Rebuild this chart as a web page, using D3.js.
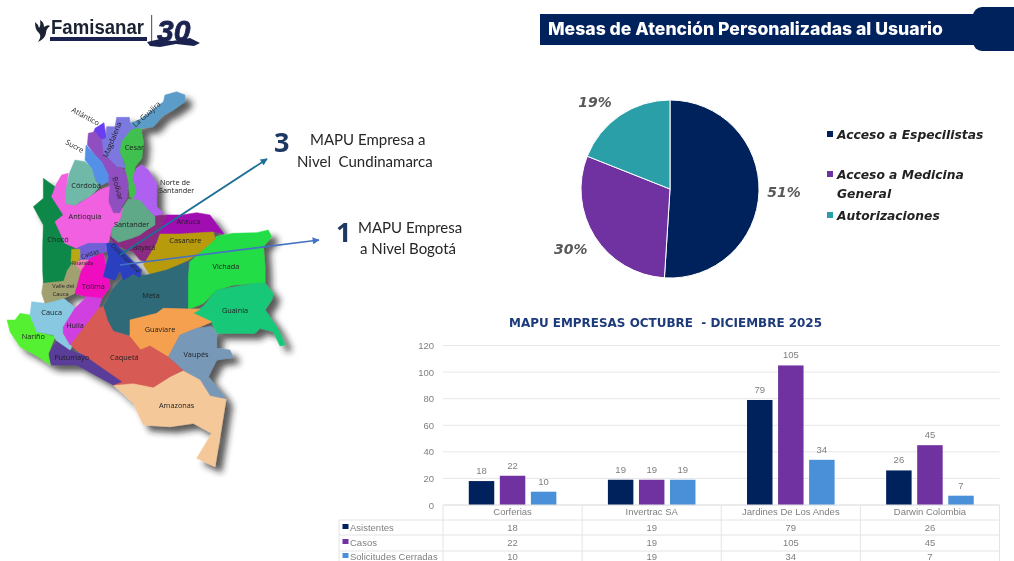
<!DOCTYPE html>
<html>
<head>
<meta charset="utf-8">
<script src="https://cdn.jsdelivr.net/npm/d3@7"></script>
<style>
  html, body { margin: 0; padding: 0; background: #fff; }
  svg { display: block; }
  text { white-space: pre; }
  .cell { font: 9.5px "Liberation Sans", sans-serif; fill: #7f7f7f; text-anchor: middle; }
  .gridline { stroke: #e6e6e6; }
  .tbl { stroke: #e4e4e4; }
  .dept { font: 22px "Open Sans", sans-serif; fill: #222; text-anchor: middle; }
</style>
</head>
<body>
<svg id="chart" width="1014" height="561"></svg>
<script>
// pie
const pieLabels = ["Acceso a Especilistas", "Acceso a Medicina General", "Autorizaciones"];
const pieValues = [51, 30, 19];
const pieColors = ["#00205c", "#7030a0", "#2b9fa8"];

// bars + table
const companies = ["Corferias", "Invertrac SA", "Jardines De Los Andes", "Darwin Colombia"];
const seriesNames = ["Asistentes", "Casos", "Solicitudes Cerradas"];
const asistentes = [18, 19, 79, 26];
const casos = [22, 19, 105, 45];
const solicitudes = [10, 19, 34, 7];
const seriesColors = ["#00205c", "#7030a0", "#4a90d9"];
const yTicks = [0, 20, 40, 60, 80, 100, 120];

// map outline at 3x (see mapG transform)
const departments = [
  ["Guajira", "#5b9cc8", [[390,130],[420,118],[445,100],[490,65],[495,45],[530,35],[555,45],[555,65],[520,90],[490,105],[460,140],[425,145],[395,145]]],
  ["Atlantico", "#6a3cf0", [[285,145],[312,128],[318,175],[290,180],[280,160]]],
  ["Magdalena", "#7b78e0", [[350,112],[388,112],[392,140],[420,145],[395,165],[365,185],[362,215],[375,262],[350,260],[330,240],[310,225],[305,180],[318,175],[320,140],[345,140]]],
  ["Cesar", "#40c050", [[395,148],[422,145],[430,185],[425,235],[405,260],[400,290],[410,330],[405,358],[390,350],[385,310],[378,275],[375,250],[360,215],[365,185]]],
  ["Bolivar", "#9050c0", [[265,160],[285,155],[305,180],[310,225],[330,240],[350,260],[375,270],[385,310],[380,355],[365,380],[362,395],[340,400],[325,365],[328,320],[320,275],[305,245],[285,225],[262,195]]],
  ["Sucre", "#5590e8", [[258,195],[285,225],[305,245],[325,285],[325,305],[305,315],[285,300],[275,265],[255,240]]],
  ["Cordoba", "#70b8a8", [[225,240],[255,245],[275,265],[285,300],[300,318],[270,350],[240,365],[225,378],[195,372],[195,340],[208,280]]],
  ["Norte", "#b060f0", [[425,255],[445,270],[470,310],[470,380],[490,400],[465,410],[440,385],[400,360],[410,330],[398,295],[410,265]]],
  ["Boyaca", "#8a2a80", [[465,408],[500,405],[480,460],[470,490],[440,545],[420,540],[400,515],[345,495],[325,465],[355,487],[395,475],[440,450],[465,435]]],
  ["Santander", "#5fa888", [[385,358],[420,360],[440,385],[465,410],[465,435],[440,450],[420,465],[395,475],[355,487],[335,470],[335,445],[360,420],[368,385]]],
  ["Arauca", "#a010b0", [[500,405],[545,405],[590,398],[630,405],[672,462],[640,455],[590,460],[540,462],[480,462]]],
  ["Casanare", "#b89a10", [[480,462],[540,462],[600,458],[640,456],[645,480],[610,510],[565,540],[500,570],[450,585],[430,555],[470,490]]],
  ["Meta", "#2f6a78", [[370,590],[440,585],[500,570],[565,545],[565,685],[490,685],[470,700],[390,720],[388,765],[340,750],[322,720],[310,680],[340,625]]],
  ["Vichada", "#22dd44", [[648,470],[700,460],[770,458],[805,450],[815,470],[790,500],[795,560],[795,610],[770,610],[700,615],[650,630],[610,670],[565,688],[565,590],[570,545],[610,510],[645,480]]],
  ["Guainia", "#18c878", [[580,698],[610,680],[650,630],[770,610],[795,610],[820,640],[815,660],[795,690],[830,740],[850,780],[855,795],[840,798],[820,755],[780,745],[765,760],[650,760],[635,725],[590,710]]],
  ["Guaviare", "#f5a050", [[390,720],[470,700],[490,685],[600,688],[580,700],[635,725],[590,745],[540,765],[505,830],[450,798],[420,810],[390,770]]],
  ["Vaupes", "#7898b8", [[540,765],[590,745],[635,740],[650,760],[650,805],[690,810],[700,832],[650,840],[625,890],[670,945],[675,955],[630,950],[600,900],[550,870],[505,830]]],
  ["Amazonas", "#f5c89a", [[340,915],[390,905],[460,922],[510,890],[550,873],[600,900],[630,948],[678,958],[660,1070],[645,1160],[590,1135],[635,1060],[580,1030],[510,1040],[430,1035],[400,970]]],
  ["Caqueta", "#d85a55", [[210,795],[295,685],[310,680],[322,720],[340,755],[390,770],[422,810],[450,798],[505,832],[548,870],[510,890],[460,922],[400,910],[340,915],[300,860],[250,825]]],
  ["Putumayo", "#5a3d98", [[170,782],[210,810],[250,825],[300,860],[365,905],[340,915],[285,885],[230,855],[155,855],[145,825]]],
  ["Narino", "#55f030", [[60,700],[90,705],[110,755],[165,770],[145,820],[150,855],[115,830],[60,800],[30,755],[21,720],[45,720]]],
  ["Cauca", "#88c8e0", [[95,665],[135,670],[190,655],[240,695],[220,735],[190,740],[190,760],[215,800],[210,810],[170,782],[160,765],[110,755],[90,705]]],
  ["Valle", "#a0a070", [[130,605],[190,600],[200,570],[218,545],[250,548],[245,565],[225,640],[190,655],[135,670],[125,640]]],
  ["Choco", "#108848", [[130,295],[165,320],[155,350],[190,405],[165,425],[195,490],[225,505],[218,545],[200,572],[190,602],[130,608],[128,570],[128,500],[130,435],[100,380],[130,355]]],
  ["Antioquia", "#f060e0", [[185,285],[205,280],[195,340],[195,372],[225,378],[270,350],[300,330],[328,320],[325,365],[340,400],[360,400],[368,385],[360,420],[335,445],[325,490],[295,495],[265,490],[230,505],[195,490],[165,425],[190,405],[155,350],[170,310]]],
  ["Caldas", "#7060d8", [[230,505],[265,490],[325,490],[320,515],[290,520],[270,540],[240,545]]],
  ["Risaralda", "#b8a818", [[215,508],[240,508],[240,535],[225,552],[213,545]]],
  ["Quindio", "#f080b0", [[225,552],[240,540],[270,540],[250,565],[245,575]]],
  ["Tolima", "#f010c0", [[225,640],[245,570],[270,535],[310,520],[330,620],[305,655],[260,650]]],
  ["Huila", "#d040e0", [[190,740],[225,685],[260,650],[305,655],[295,685],[210,795],[190,760]]],
  ["Cundinamarca", "#2a3fc0", [[320,490],[345,490],[385,530],[425,570],[420,592],[400,582],[370,600],[360,570],[345,600],[310,590],[325,530]]]
];
const deptLabels = [
  ["La Guajira", 445, 108, -42, 22], ["Atlántico", 253, 116, 28, 22], ["Magdalena", 344, 182, -68, 22],
  ["Sucre", 220, 205, 28, 22], ["Cesar", 403, 211, 0, 22], ["Córdoba", 258, 325, 0, 22],
  ["Bolívar", 346, 327, 75, 22], ["Norte de", 525, 316, 0, 22], ["Santander", 530, 340, 0, 22],
  ["Antioquia", 255, 418, 0, 22], ["Santander", 395, 441, 0, 22], ["Arauca", 565, 432, 0, 22],
  ["Casanare", 556, 490, 0, 22], ["Chocó", 174, 486, 0, 22], ["Vichada", 678, 567, 0, 22],
  ["Boyacá", 432, 510, 0, 20], ["Caldas", 272, 528, -20, 18], ["Cundinamarca", 372, 538, 45, 17],
  ["Risaralda", 248, 556, 0, 15], ["Valle del", 190, 624, 0, 17], ["Cauca", 182, 647, 0, 17],
  ["Meta", 453, 654, 0, 22], ["Guainía", 705, 699, 0, 22], ["Guaviare", 480, 755, 0, 22],
  ["Tolima", 280, 627, 0, 22], ["Cauca", 155, 706, 0, 22], ["Huila", 225, 743, 0, 22],
  ["Nariño", 100, 778, 0, 22], ["Vaupés", 588, 831, 0, 22], ["Putumayo", 215, 840, 0, 22],
  ["Caquetá", 373, 840, 0, 22], ["Amazonas", 530, 984, 0, 22]
];

const svg = d3.select("#chart");
const defs = svg.append("defs");
defs.append("filter").attr("id", "soft").attr("x", "-2%").attr("y", "-2%").attr("width", "104%").attr("height", "104%")
  .append("feGaussianBlur").attr("stdDeviation", 0.4);
const shadow = defs.append("filter").attr("id", "mapShadow").attr("x", "-15%").attr("y", "-15%").attr("width", "130%").attr("height", "130%");
shadow.append("feGaussianBlur").attr("in", "SourceGraphic").attr("stdDeviation", 1.5).attr("result", "b");
shadow.append("feDropShadow").attr("in", "b").attr("dx", 20).attr("dy", 18).attr("stdDeviation", 9).attr("flood-color", "#222").attr("flood-opacity", 0.75);

const arrowMarker = (id, color) => {
  defs.append("marker").attr("id", id).attr("viewBox", "0 0 10 10").attr("refX", 9).attr("refY", 5)
    .attr("markerWidth", 9).attr("markerHeight", 7).attr("markerUnits", "userSpaceOnUse").attr("orient", "auto")
    .append("path").attr("d", "M0,0L10,5L0,10Z").attr("fill", color);
};
arrowMarker("arrowTeal", "#1e6f96");
arrowMarker("arrowBlue", "#4472c4");

const page = svg.append("g").attr("filter", "url(#soft)");
page.append("rect").attr("width", 1014).attr("height", 561).attr("fill", "#fff");

//#region Header
page.append("rect").attr("x", 540).attr("y", 14).attr("width", 440).attr("height", 31).attr("fill", "#00205c");
page.append("rect").attr("x", 973).attr("y", 7).attr("width", 60).attr("height", 44).attr("rx", 9).attr("fill", "#00205c");
page.append("text").attr("x", 548).attr("y", 35).attr("fill", "#fff")
  .style("font", "800 17.5px Inter, sans-serif").attr("textLength", 395).attr("lengthAdjust", "spacingAndGlyphs")
  .text("Mesas de Atención Personalizadas al Usuario");

const logo = page.append("g");
logo.append("path").attr("fill", "#1b2433")
  .attr("d", "M35,22 Q38,24 39,28 Q41,25 40,20 Q44,22 44,27 Q48,24 50,26 Q46,29 46,33 Q45,39 38,42 Q42,36 39,33 Q35,30 35,22Z");
logo.append("text").attr("x", 51).attr("y", 34).attr("fill", "#1b2433")
  .style("font", "bold 19.5px 'Liberation Sans', sans-serif").attr("textLength", 93).attr("lengthAdjust", "spacingAndGlyphs").text("Famisanar");
logo.append("rect").attr("x", 50).attr("y", 37).attr("width", 97).attr("height", 4).attr("fill", "#1d2450");
logo.append("rect").attr("x", 151).attr("y", 15).attr("width", 1.2).attr("height", 30).attr("fill", "#666");
logo.append("text").attr("x", 157).attr("y", 41).attr("fill", "#1d2450").attr("stroke", "#1d2450").attr("stroke-width", 0.8)
  .style("font", "italic bold 30px 'Liberation Sans', sans-serif").text("30");
logo.append("path").attr("fill", "#1d2450")
  .attr("d", "M147,42 L160,39 L172,41 L190,38 L200,43 L194,46 L176,44 L160,47 L150,46Z");
//#endregion

//#region Map
const mapG = page.append("g").attr("transform", "translate(0,80) scale(0.33333)");
const lineGen = d3.line().curve(d3.curveLinearClosed);
const provinces = mapG.append("g").attr("filter", "url(#mapShadow)");
provinces.selectAll("path")
  .data(departments)
  .enter()
  .append("path")
  .attr("d", (d) => lineGen(d[2]))
  .attr("fill", (d) => d[1])
  .attr("stroke", (d) => d[1])
  .attr("stroke-width", 1.5)
  .attr("stroke-linejoin", "round");
mapG.selectAll("text")
  .data(deptLabels)
  .enter()
  .append("text")
  .attr("class", "dept")
  .attr("transform", (d) => `translate(${d[1]},${d[2]}) rotate(${d[3]})`)
  .style("font-size", (d) => d[4] + "px")
  .text((d) => d[0]);

page.append("line").attr("x1", 120).attr("y1", 255).attr("x2", 267).attr("y2", 159)
  .attr("stroke", "#1e6f96").attr("stroke-width", 1.8).attr("marker-end", "url(#arrowTeal)");
page.append("line").attr("x1", 120).attr("y1", 265).attr("x2", 319).attr("y2", 240)
  .attr("stroke", "#4472c4").attr("stroke-width", 1.6).attr("marker-end", "url(#arrowBlue)");

const note = (txt, x, y) =>
  page.append("text").attr("x", x).attr("y", y).attr("fill", "#262626")
    .style("font", "15px Lato, sans-serif").text(txt);
page.append("text").attr("x", 274).attr("y", 152).attr("fill", "#1f3864")
  .style("font", "bold 27px 'Open Sans', sans-serif").text("3");
note("MAPU Empresa a", 310, 145);
note("Nivel  Cundinamarca", 297, 167);
page.append("text").attr("x", 336).attr("y", 242).attr("fill", "#1f3864")
  .style("font", "bold 27px 'Open Sans', sans-serif").text("1");
note("MAPU Empresa", 358, 233);
note("a Nivel Bogotá", 360, 254);
//#endregion

//#region Pie
const pieG = page.append("g").attr("transform", "translate(670,189)");
const pie = d3.pie().sort(null);
const arc = d3.arc().innerRadius(0).outerRadius(89);
const labelArc = d3.arc().innerRadius(114).outerRadius(114);
// nudges so each label sits where the picture has it
const labelNudge = [[0, 0], [-3, -1], [-11, 7]];

pieG.selectAll("path")
  .data(pie(pieValues))
  .enter()
  .append("path")
  .attr("d", arc)
  .attr("fill", (d, i) => pieColors[i])
  .attr("stroke", "#fff")
  .attr("stroke-width", 1);
pieG.selectAll("text")
  .data(pie(pieValues))
  .enter()
  .append("text")
  .attr("x", (d, i) => labelArc.centroid(d)[0] + labelNudge[i][0])
  .attr("y", (d, i) => labelArc.centroid(d)[1] + labelNudge[i][1])
  .attr("dy", "0.35em")
  .attr("text-anchor", "middle")
  .attr("fill", "#595959")
  .style("font", "italic bold 14px 'DejaVu Sans', sans-serif")
  .text((d) => d.value + "%");

// legend
const legendRows = [[pieLabels[0]], ["Acceso a Medicina", "General"], [pieLabels[2]]];
const legendY = [134, 174, 215];
const legend = page.append("g").selectAll("g")
  .data(legendRows)
  .enter()
  .append("g")
  .attr("transform", (d, i) => `translate(827,${legendY[i]})`);
legend.append("rect").attr("y", -3).attr("width", 6).attr("height", 6).attr("fill", (d, i) => pieColors[i]);
legend.selectAll("text")
  .data((d) => d)
  .enter()
  .append("text")
  .attr("x", 10)
  .attr("y", (d, i) => 4.5 + i * 19)
  .attr("fill", "#222")
  .style("font", "italic bold 12.3px 'DejaVu Sans', sans-serif")
  .text((d) => d);
//#endregion

//#region Bars
page.append("text").attr("x", 665.5).attr("y", 327).attr("text-anchor", "middle").attr("fill", "#1f3a7a")
  .style("font", "bold 13px 'DejaVu Sans', sans-serif").attr("textLength", 313).attr("lengthAdjust", "spacingAndGlyphs")
  .text("MAPU EMPRESAS OCTUBRE  - DICIEMBRE 2025");

const series = [asistentes, casos, solicitudes];
const xScale = d3.scaleBand().domain(companies).range([443, 999.5]);
const xInner = d3.scaleBand().domain(seriesNames).range([0, xScale.bandwidth()])
  .paddingInner(0.18).paddingOuter(0.83);
const yScale = d3.scaleLinear().domain([0, 120]).range([505, 345.5]);

const yAxis = d3.axisLeft(yScale).tickValues(yTicks).tickSize(0).tickPadding(9);
const yAxisG = page.append("g").attr("transform", "translate(443,0)").call(yAxis);
yAxisG.select(".domain").remove();
yAxisG.selectAll("text").attr("class", "cell").style("text-anchor", "end").attr("fill", null);

page.append("g").selectAll("line")
  .data(yTicks)
  .enter()
  .append("line")
  .attr("class", "gridline")
  .attr("x1", 443).attr("x2", 999.5)
  .attr("y1", (d) => yScale(d)).attr("y2", (d) => yScale(d));

const groups = page.append("g").selectAll("g")
  .data(seriesNames)
  .enter()
  .append("g")
  .attr("fill", (d, i) => seriesColors[i]);
const barData = (name, s) => companies.map((c, j) => ({ name, c, v: series[s][j] }));
groups.selectAll("rect")
  .data((d, i) => barData(d, i))
  .enter()
  .append("rect")
  .attr("x", (d) => xScale(d.c) + xInner(d.name))
  .attr("width", xInner.bandwidth())
  .attr("y", (d) => yScale(d.v))
  .attr("height", (d) => yScale(0) - yScale(d.v));
groups.selectAll("text")
  .data((d, i) => barData(d, i))
  .enter()
  .append("text")
  .attr("class", "cell")
  .attr("x", (d) => xScale(d.c) + xInner(d.name) + xInner.bandwidth() / 2)
  .attr("y", (d) => yScale(d.v) - 7)
  .text((d) => d.v);

// data table under the bars
const rowY = [505, 520, 535, 551, 566];
const rowTextY = [530.5, 545.5, 559.5];
const colX = xScale.domain().map((c) => xScale(c)).concat([999.5]);
const tableG = page.append("g");
rowY.forEach((y, i) => {
  tableG.append("line").attr("class", "tbl").attr("x1", i == 0 ? 443 : 339).attr("x2", 999.5).attr("y1", y).attr("y2", y);
});
colX.forEach((x) => {
  tableG.append("line").attr("class", "tbl").attr("x1", x).attr("x2", x).attr("y1", 505).attr("y2", 561);
});
tableG.append("line").attr("class", "tbl").attr("x1", 339).attr("x2", 339).attr("y1", 520).attr("y2", 561);
tableG.selectAll("text.head")
  .data(companies)
  .enter()
  .append("text")
  .attr("class", "cell head")
  .attr("x", (d) => xScale(d) + xScale.bandwidth() / 2)
  .attr("y", 515)
  .text((d) => d);
seriesNames.forEach((name, s) => {
  const y = rowTextY[s];
  tableG.append("rect").attr("x", 342.5).attr("y", y - 6.5).attr("width", 6).attr("height", 5).attr("fill", seriesColors[s]);
  tableG.append("text").attr("class", "cell").style("text-anchor", "start").attr("x", 350).attr("y", y).text(name);
  series[s].forEach((v, j) => {
    tableG.append("text").attr("class", "cell")
      .attr("x", xScale(companies[j]) + xScale.bandwidth() / 2).attr("y", y).text(v);
  });
});
//#endregion
</script>
</body>
</html>
